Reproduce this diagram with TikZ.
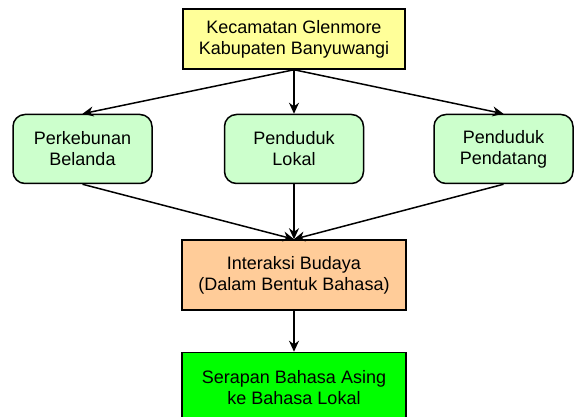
\documentclass[tikz,border=0pt]{standalone}
\usepackage{fontspec}
\setmainfont{Liberation Sans}
\usetikzlibrary{arrows.meta,positioning}
\definecolor{kuning}{HTML}{FFFF99}
\definecolor{hijaumuda}{HTML}{CCFFCC}
\definecolor{oranye}{HTML}{FFCC99}
\definecolor{hijau}{HTML}{00FF00}
\begin{document}
\begin{tikzpicture}[
  node distance=44pt,
  kotak/.style={draw,line width=1.5pt,align=center,inner sep=0pt,font=\fontsize{18}{21}\selectfont},
  bulat/.style={kotak,rounded corners=12pt,fill=hijaumuda,minimum width=139pt,minimum height=69pt},
  arr/.style={line width=1.5pt,-{Stealth[length=11pt,width=10pt]}}
]
\path[use as bounding box] (0,0) rectangle (574pt,-417pt);
% Baris atas
\node[kotak,fill=kuning,minimum width=222pt,minimum height=60pt] (kec) at (294pt,-39pt) {Kecamatan Glenmore\\Kabupaten Banyuwangi};
% Baris kedua
\node[bulat,below=of kec] (lokal) {Penduduk\\Lokal};
\node[bulat,left=71pt of lokal] (belanda) {Perkebunan\\Belanda};
\node[bulat,right=69pt of lokal] (datang) {Penduduk\\Pendatang};
% Baris bawah
\node[kotak,fill=oranye,minimum width=224pt,minimum height=70pt,below=55pt of lokal] (interaksi) {Interaksi Budaya\\(Dalam Bentuk Bahasa)};
\node[kotak,fill=hijau,minimum width=224pt,minimum height=70pt,below=41pt of interaksi] (serapan) {Serapan Bahasa Asing\\ke Bahasa Lokal};

\draw[arr] (kec.south) -- (belanda.north);
\draw[arr] (kec.south) -- (lokal.north);
\draw[arr] (kec.south) -- (datang.north);
\draw[arr] (belanda.south) -- (interaksi.north);
\draw[arr] (lokal.south) -- (interaksi.north);
\draw[arr] (datang.south) -- (interaksi.north);
\draw[arr] (interaksi.south) -- (serapan.north);
\end{tikzpicture}
\end{document}
